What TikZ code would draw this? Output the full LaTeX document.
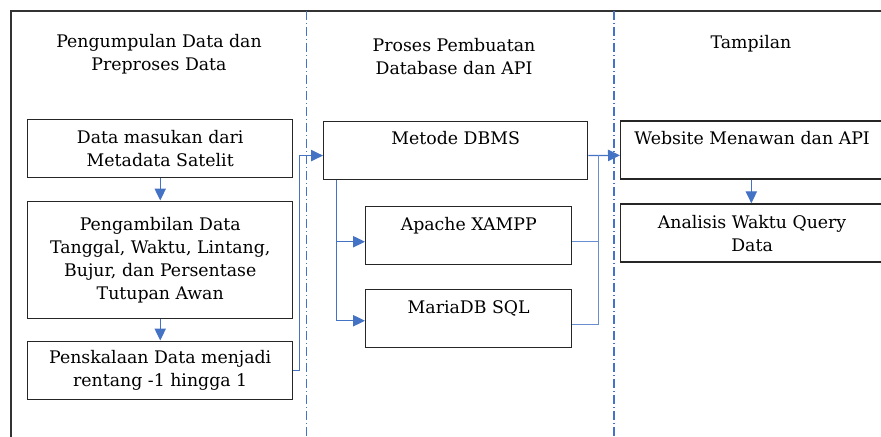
\documentclass[tikz,border=0pt]{standalone}
\usepackage{fontspec}
\setmainfont{DejaVu Serif}
\usetikzlibrary{arrows.meta}
\definecolor{flowblue}{HTML}{4472C4}
\begin{document}
\begin{tikzpicture}[x=0.75pt,y=-0.75pt,
    every node/.style={font=\fontsize{13}{17.25}\selectfont},
    box/.style={draw=black!85,line width=1.1pt,inner sep=0pt,align=center,
        anchor=north west,minimum width=198.75pt,minimum height=43.5pt},
    onebox/.style={box,text height=17.7pt,text depth=25.8pt},
    link/.style={-{Triangle[length=9pt,width=8.5pt]},flowblue,line width=0.9pt},
    thin link/.style={flowblue!80,line width=0.6pt},
    lane/.style={flowblue,line width=0.8pt,dash pattern=on 7pt off 2pt on 1pt off 2pt}]
    \useasboundingbox (0,0) rectangle (881,436);
    \clip (0,0) rectangle (881,436);

    % frame and lanes
    \draw [black!80,line width=1.1pt] (11,440)--(11,11)--(885,11);
    \draw [lane] (306.5,11)--(306.5,436);
    \draw [lane] (614,11)--(614,436);

    % headings
    \node (h1) at (159,54) [align=center] {Pengumpulan Data dan\\Preproses Data};
    \node (h2) at (454,57) [align=center] {Proses Pembuatan\\Database dan API};
    \node (h3) at (751,44) {Tampilan};

    % left lane
    \node (pre1) at (27,119) [box] {Data masukan dari\\Metadata Satelit};
    \node (pre2) at (27,200.5) [box,minimum height=88pt] {Pengambilan Data\\Tanggal, Waktu, Lintang,\\Bujur, dan Persentase\\Tutupan Awan};
    \node (pre3) at (27,340.5) [box] {Penskalaan Data menjadi\\rentang -1 hingga 1};

    % middle lane
    \node (dbms) at (323,120.5) [onebox,minimum width=198pt] {Metode DBMS};
    \node (xampp) at (365,206) [onebox,minimum width=154.5pt] {Apache XAMPP};
    \node (maria) at (365,289) [onebox,minimum width=154.5pt] {MariaDB SQL};

    % right lane
    \node (web) at (620,120.3) [onebox,minimum width=197pt] {Website Menawan dan API};
    \node (query) at (620,203.3) [box,minimum width=197pt] {Analisis Waktu Query\\Data};

    \draw [link] (pre1.south)--(pre2.north);
    \draw [link] (pre2.south)--(pre3.north);
    \draw [link] (pre3.east)--++(6,0)|-([yshift=-4pt]dbms.west);
    \draw [link] ([yshift=-4pt]dbms.east)--([yshift=-4pt]web.west);
    \draw [link] ([xshift=10pt]dbms.south west)|-([yshift=-4.5pt]xampp.west);
    \draw [link] ([xshift=10pt]dbms.south west)|-([yshift=-1.5pt]maria.west);
    \draw [thin link] ([yshift=-4pt]xampp.east)-|(598,155);
    \draw [thin link] ([yshift=-4.5pt]maria.east)-|(598,240);
    \draw [link] ([xshift=98.5pt]web.south west)--([xshift=98.5pt]query.north west);
\end{tikzpicture}
\end{document}
